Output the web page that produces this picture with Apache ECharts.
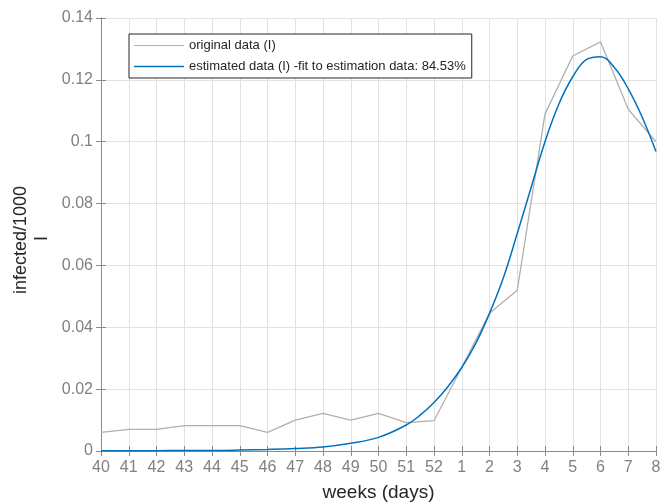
<!DOCTYPE html>
<html>
<head>
<meta charset="utf-8">
<script src="https://cdn.jsdelivr.net/npm/echarts@6/dist/echarts.min.js"></script>
<style>
  html, body { margin: 0; padding: 0; background: #fff; }
  #chart { width: 660px; height: 504px; }
</style>
</head>
<body>
<div id="chart"></div>
<script>
var weekLabels = ['40', '41', '42', '43', '44', '45', '46', '47', '48', '49', '50', '51', '52',
                  '1', '2', '3', '4', '5', '6', '7', '8'];

// original data (I), one value per week
var originalI = [0.0060, 0.0070, 0.0070, 0.0082, 0.0082, 0.0082, 0.0060, 0.0100, 0.0122, 0.0100,
                 0.0122, 0.0092, 0.0098, 0.0270, 0.0445, 0.0520, 0.1090, 0.1277, 0.1323, 0.1105, 0.1000];

// estimated data (I) (x = week index)
var fitX = [0, 1, 2, 3, 4, 5, 6, 7, 8, 9, 10, 11, 11.5, 12, 12.5, 13, 13.5, 14, 14.5, 15,
            15.5, 16, 16.5, 17, 17.5, 18, 18.5, 19, 19.5, 20];
var fitI = [0.00005, 0.0001, 0.0001, 0.0002, 0.0002, 0.0003, 0.0005, 0.0008, 0.0013, 0.0025,
            0.0044, 0.0084, 0.0116, 0.0157, 0.0208, 0.0270, 0.0347, 0.0445, 0.0560, 0.0703,
            0.0852, 0.1000, 0.1122, 0.1210, 0.1266, 0.1275, 0.1240, 0.1171, 0.1080, 0.0968];

var fontFam = 'Liberation Sans, Arial, sans-serif';
var axisCol = '#8a8a8a';
var gridCol = '#e2e2e2';
var greyLine = '#b0b0b0';
var blueLine = '#0072BD';

var origData = originalI.map(function (v, i) { return [i, v]; });
var fitData = fitX.map(function (x, i) { return [x, fitI[i]]; });

var myChart = echarts.init(document.getElementById('chart'));

var option = {
  animation: false,
  textStyle: { fontFamily: fontFam },
  grid: { left: 101, top: 18, width: 555, height: 433, containLabel: false, outerBoundsMode: 'none' },
  legend: {
    orient: 'vertical',
    left: 129,
    top: 34,
    padding: [5, 6, 5, 5],
    itemWidth: 50,
    itemHeight: 14,
    itemGap: 8,
    borderColor: '#262626',
    borderWidth: 1,
    backgroundColor: '#fff',
    textStyle: { fontSize: 13, color: '#262626', fontFamily: fontFam },
    data: [
      { name: 'original data (I)', icon: 'path://M0,6.5 L50,6.5 L50,7.7 L0,7.7 Z', itemStyle: { color: greyLine } },
      { name: 'estimated data (I) -fit to estimation data: 84.53%', icon: 'path://M0,6.3 L50,6.3 L50,7.8 L0,7.8 Z', itemStyle: { color: blueLine } }
    ]
  },
  xAxis: [
    {
      type: 'value',
      min: 0,
      max: 20,
      interval: 1,
      name: 'weeks (days)',
      nameLocation: 'middle',
      nameGap: 32,
      nameTextStyle: { fontSize: 19, color: '#262626', fontFamily: fontFam },
      axisLine: { lineStyle: { color: axisCol } },
      axisTick: { inside: true, length: 5, lineStyle: { color: axisCol } },
      axisLabel: {
        margin: 9,
        fontSize: 16,
        color: '#808080',
        fontFamily: fontFam,
        formatter: function (v) { return weekLabels[v]; }
      },
      splitLine: { show: true, lineStyle: { color: gridCol } }
    },
    {
      type: 'value',
      position: 'top',
      min: 0,
      max: 20,
      interval: 1,
      axisLine: { show: true, lineStyle: { color: axisCol } },
      axisTick: { show: true, inside: true, length: 5, lineStyle: { color: axisCol } },
      axisLabel: { show: false },
      splitLine: { show: false }
    }
  ],
  yAxis: [
    {
      type: 'value',
      min: 0,
      max: 0.14,
      interval: 0.02,
      axisLine: { show: true, lineStyle: { color: axisCol } },
      axisTick: { show: true, inside: true, length: 5, lineStyle: { color: axisCol } },
      axisLabel: { margin: 8, fontSize: 16, color: '#808080', fontFamily: fontFam },
      splitLine: { show: true, lineStyle: { color: gridCol } }
    },
    {
      type: 'value',
      position: 'right',
      min: 0,
      max: 0.14,
      interval: 0.02,
      axisLine: { show: true, lineStyle: { color: axisCol } },
      axisTick: { show: true, inside: true, length: 5, lineStyle: { color: axisCol } },
      axisLabel: { show: false },
      splitLine: { show: false }
    }
  ],
  graphic: [
    {
      type: 'text',
      x: 12,
      y: 294,
      rotation: Math.PI / 2,
      style: { text: 'infected/1000', fontSize: 18, fill: '#262626', fontFamily: fontFam }
    },
    {
      type: 'text',
      x: 33,
      y: 241,
      rotation: Math.PI / 2,
      style: { text: 'I', fontSize: 18, fill: '#262626', fontFamily: fontFam }
    }
  ],
  series: [
    {
      name: 'original data (I)',
      type: 'line',
      symbol: 'none',
      data: origData,
      lineStyle: { color: greyLine, width: 1.3 },
      itemStyle: { color: greyLine },
      z: 2
    },
    {
      name: 'estimated data (I) -fit to estimation data: 84.53%',
      type: 'line',
      symbol: 'none',
      smooth: 0.4,
      data: fitData,
      lineStyle: { color: blueLine, width: 1.5 },
      itemStyle: { color: blueLine },
      z: 3
    }
  ]
};

myChart.setOption(option);
</script>
</body>
</html>
